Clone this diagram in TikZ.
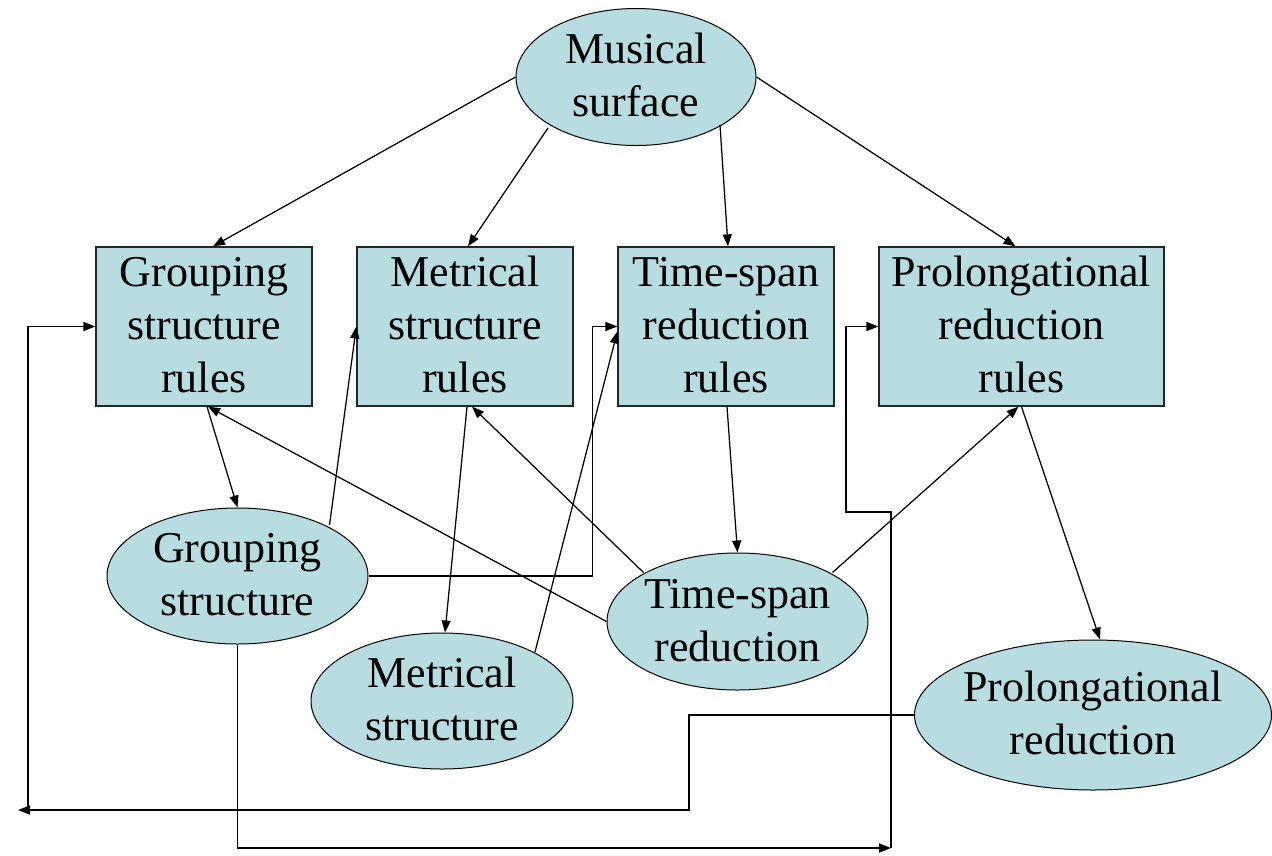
\documentclass[tikz,border=0pt]{standalone}
\usepackage{fontspec}
\setmainfont{Liberation Serif}
\usetikzlibrary{shapes.geometric,arrows.meta}
\definecolor{nodefill}{RGB}{183,221,224}
\newcommand{\ntxt}[1]{\makebox[0pt]{\begin{tabular}{@{}c@{}}#1\end{tabular}}}
\begin{document}
\begin{tikzpicture}[x=1pt,y=1pt,
  box/.style={draw=black!85,line width=1.3pt,fill=nodefill,rectangle,minimum width=216pt,minimum height=159pt,inner sep=0pt},
  ell/.style={draw=black,line width=1pt,fill=nodefill,ellipse,inner sep=0pt},
  lbl/.style={inner sep=0pt,yshift=-2.5pt,font=\fontsize{44}{53}\selectfont},
  arr/.style={line width=1.25pt,-{Triangle[length=12pt,width=9pt]}},
  elb/.style={line width=1.6pt}]
\useasboundingbox (0,0) rectangle (1272,-855);
% nodes
\node[ell,minimum width=240pt,minimum height=137pt,label={[lbl]center:\ntxt{Musical\\surface}}] (ms) at (636,-77) {};
\node[box,label={[lbl]center:\ntxt{Grouping\\structure\\rules}}] (gr) at (204,-326.5) {};
\node[box,label={[lbl]center:\ntxt{Metrical\\structure\\rules}}] (mr) at (465,-326.5) {};
\node[box,label={[lbl]center:\ntxt{Time-span\\reduction\\rules}}] (tr) at (726,-326.5) {};
\node[box,minimum width=285pt,label={[lbl]center:\ntxt{Prolongational\\reduction\\rules}}] (pr) at (1021.5,-326.5) {};
\node[ell,minimum width=261pt,minimum height=136pt,label={[lbl]center:\ntxt{Grouping\\structure}}] (gs) at (237.5,-576) {};
\node[ell,minimum width=262pt,minimum height=136pt,label={[lbl]center:\ntxt{Metrical\\structure}}] (mst) at (442,-701) {};
\node[ell,minimum width=261pt,minimum height=137pt,label={[lbl]center:\ntxt{Time-span\\reduction}}] (ts) at (737.5,-621.5) {};
\node[ell,minimum width=357pt,minimum height=150pt,label={[lbl]center:\ntxt{Prolongational\\reduction}}] (pd) at (1093,-715) {};
% connectors
\draw[arr] (ms.west) -- ([xshift=9pt]gr.north);
\draw[arr] ([xshift=-88pt,yshift=-51pt]ms.center) -- ([xshift=3pt]mr.north);
\draw[arr] ([xshift=84pt,yshift=-48pt]ms.center) -- ([xshift=2pt]tr.north);
\draw[arr] (ms.east) -- ([xshift=-6pt]pr.north);
\draw[arr] ([xshift=3pt]gr.south) -- (gs.north);
\draw[arr] (ts.west) -- ([xshift=4pt]gr.south);
\draw[arr] ([xshift=-94pt,yshift=49pt]ts.center) -- ([xshift=7pt]mr.south);
\draw[arr] ([xshift=92pt,yshift=51pt]gs.center) -- (mr.west);
\draw[arr] ([xshift=2pt]mr.south) -- ([xshift=3pt]mst.north);
\draw[arr,elb] (gs.east) -- ++(224,0) |- (tr.west);
\draw[arr] ([xshift=93pt,yshift=49pt]mst.center) -- ([yshift=-5pt]tr.west);
\draw[arr] ([xshift=1pt]tr.south) -- (ts.north);
\draw[arr] ([xshift=95pt,yshift=49pt]ts.center) -- ([xshift=-3pt]pr.south);
\draw[arr] (pr.south) -- ([xshift=7pt]pd.north);
\coordinate (lc) at (18,-810);
\draw[arr,elb] (pd.west) -- ++(-225,0) |- (lc);
\draw[arr,elb] ([xshift=10pt]lc) |- (gr.west);
\coordinate (rc) at (891,-848);
\draw[arr,elb] (gs.south) |- (rc);
\draw[arr,elb] (rc) -- ++(0,336) -- ++(-45,0) |- (pr.west);
\end{tikzpicture}
\end{document}
